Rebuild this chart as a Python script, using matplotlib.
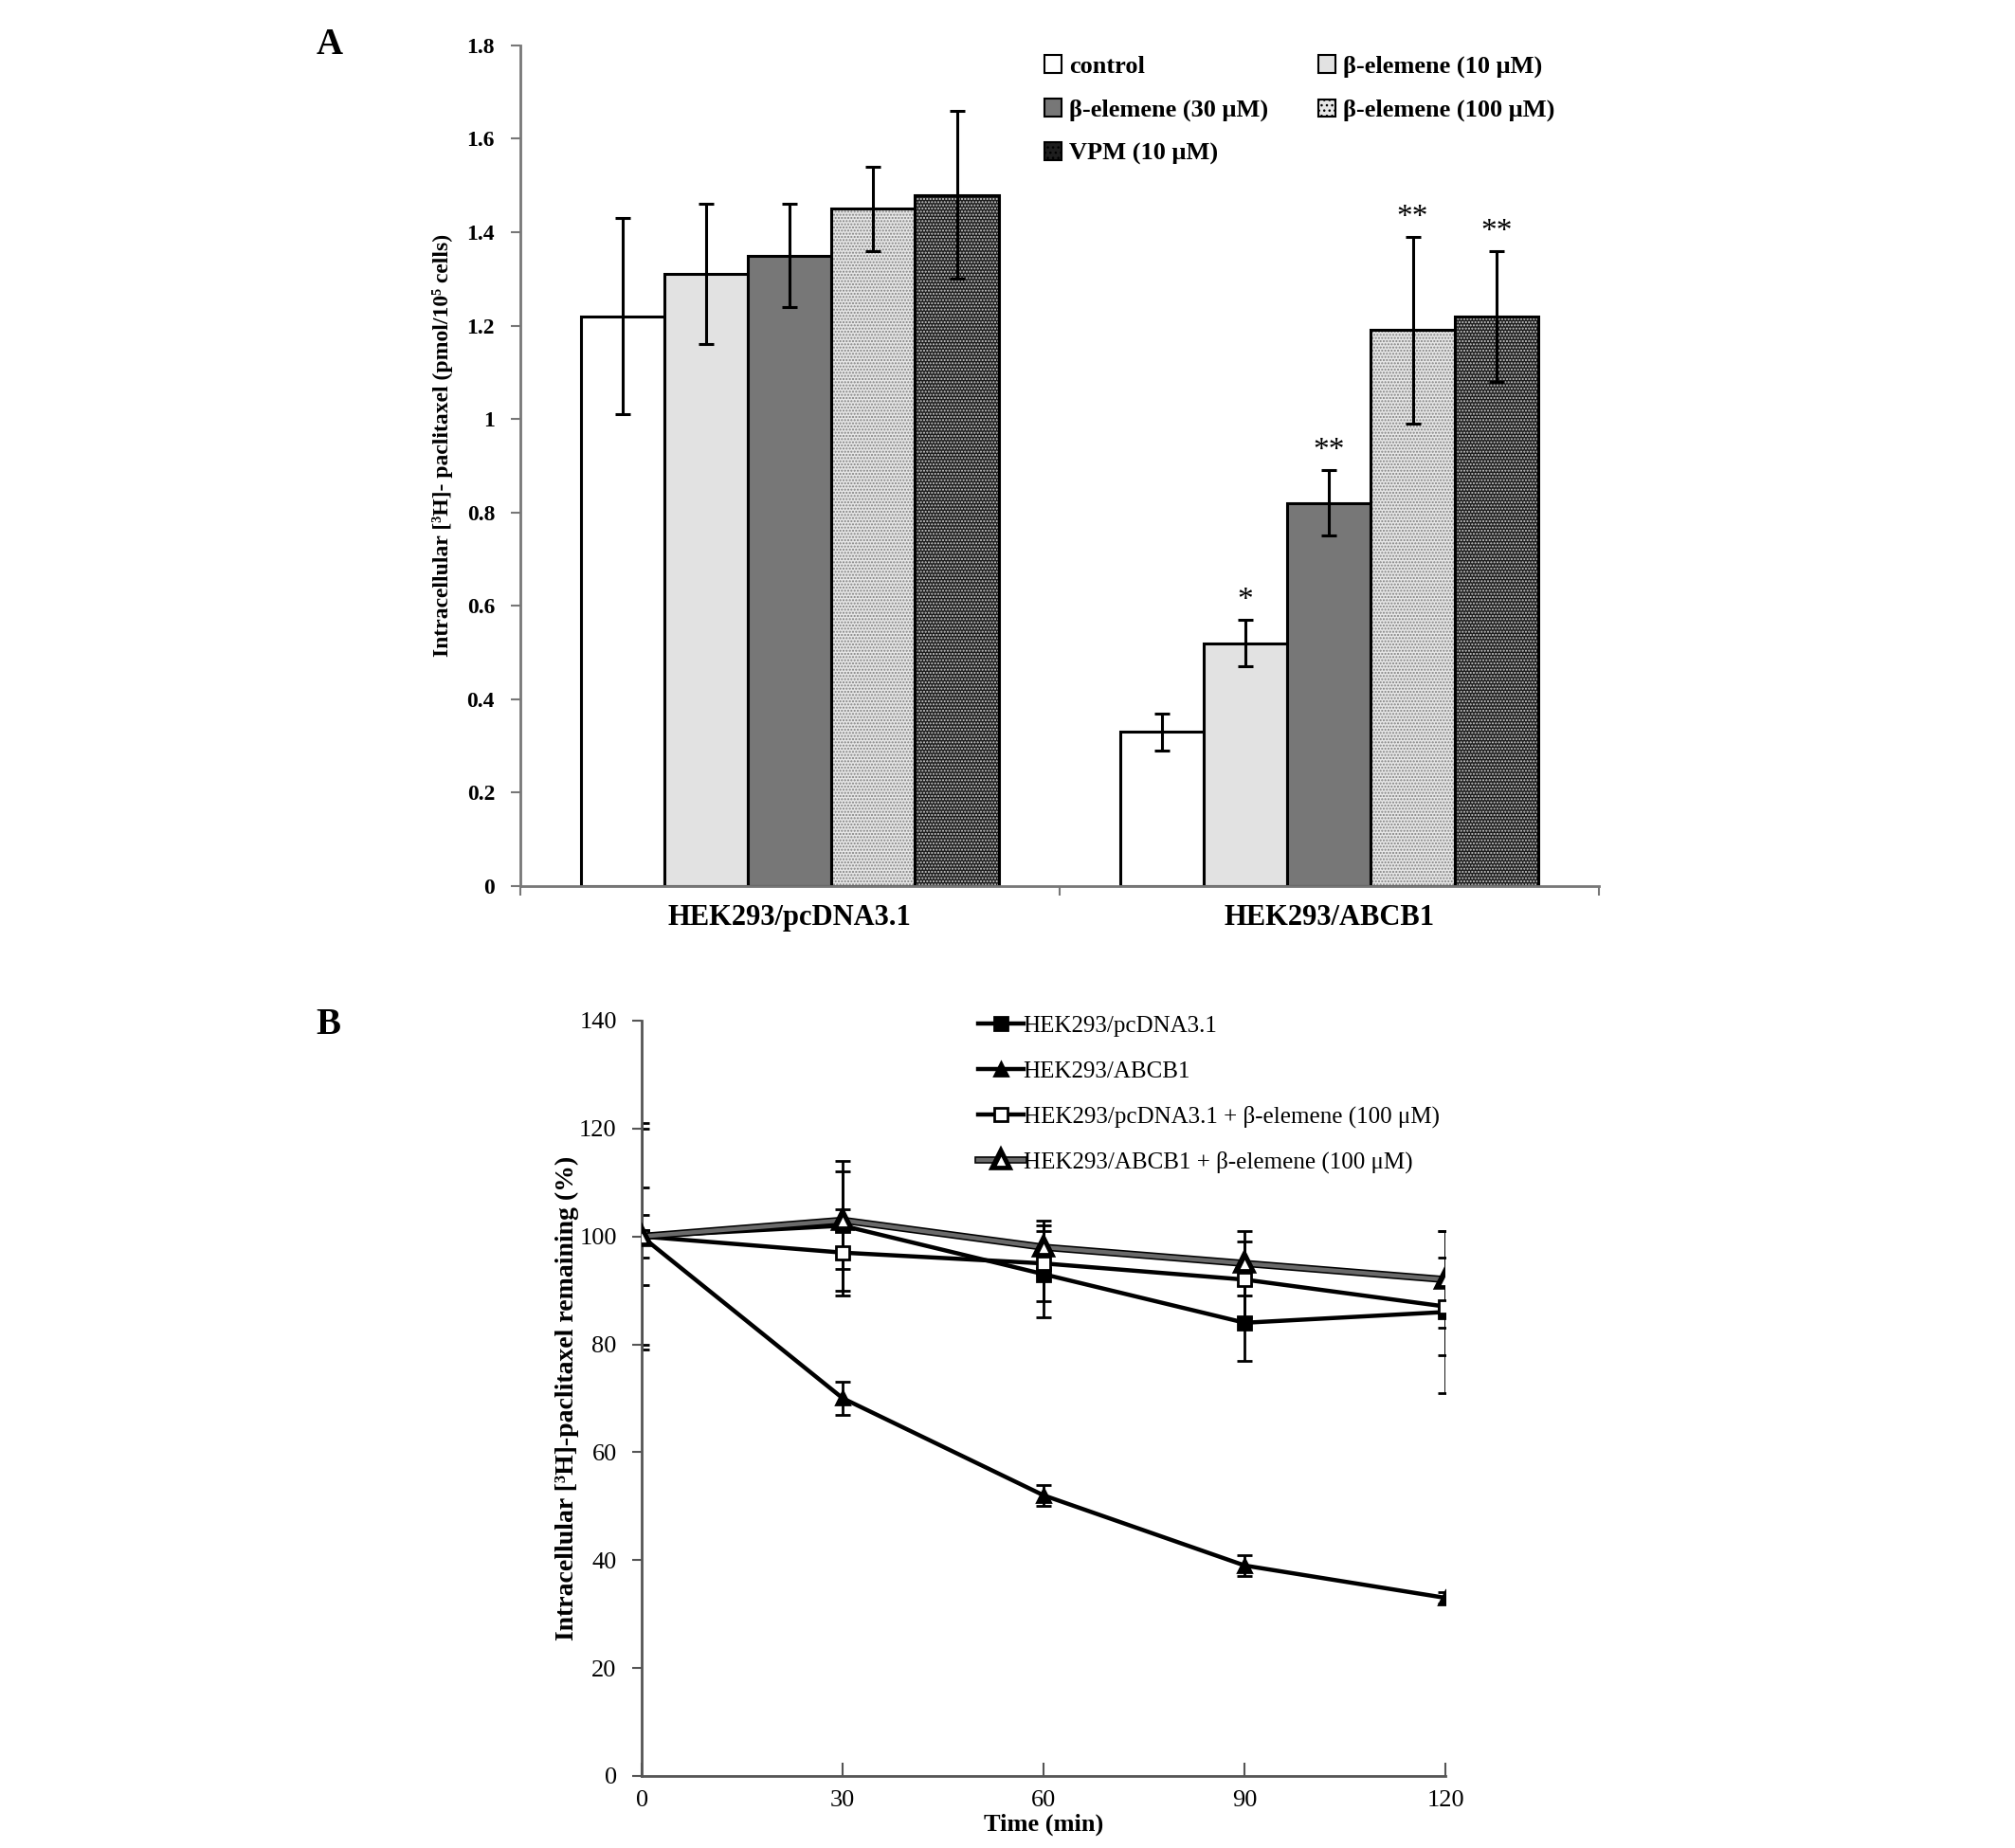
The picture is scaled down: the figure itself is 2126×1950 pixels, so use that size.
import numpy as np
import matplotlib
matplotlib.use("Agg")
import matplotlib.pyplot as plt
from matplotlib.patches import Patch
import matplotlib.patheffects as pe

plt.rcParams['font.family'] = ['Liberation Serif', 'DejaVu Serif']

# ---------------- data, panel A ----------------
cells = ['HEK293/pcDNA3.1', 'HEK293/ABCB1']
treatments = ['control', 'β-elemene (10 μM)', 'β-elemene (30 μM)',
              'β-elemene (100 μM)', 'VPM (10 μM)']
means_a = [[1.22, 0.33],
           [1.31, 0.52],
           [1.35, 0.82],
           [1.45, 1.19],
           [1.48, 1.22]]
errs_a = [[0.21, 0.04],
          [0.15, 0.05],
          [0.11, 0.07],
          [0.09, 0.20],
          [0.18, 0.14]]
stars_a = [['', ''], ['', '*'], ['', '**'], ['', '**'], ['', '**']]

# ---------------- data, panel B ----------------
times = [0, 30, 60, 90, 120]
series_b = ['HEK293/pcDNA3.1', 'HEK293/ABCB1',
            'HEK293/pcDNA3.1 + β-elemene (100 μM)',
            'HEK293/ABCB1 + β-elemene (100 μM)']
vals_b = [[100, 102, 93, 84, 86],
          [100, 70, 52, 39, 33],
          [100, 97, 95, 92, 87],
          [100, 103, 98, 95, 92]]
errs_b = [[21, 12, 8, 7, 15],
          [4, 3, 2, 2, 1],
          [20, 8, 7, 7, 9],
          [9, 9, 5, 6, 9]]

fig = plt.figure(figsize=(21.26, 19.5), dpi=100)

# ================= panel A =================
ax = fig.add_axes([0.258, 0.5205, 0.5355, 0.455])
faces = ['white', '#e2e2e2', '#777777', '#e6e6e6', '#1e1e1e']
hatches = [None, None, None, '.....', '.....']
hcols = [None, None, None, '#808080', '#d0d0d0']
w = 0.155
x = np.arange(len(cells))
for i in range(len(treatments)):
    pos = x + (i - 2) * w
    if hatches[i]:
        ax.bar(pos, means_a[i], w, color=faces[i], edgecolor=hcols[i],
               hatch=hatches[i], linewidth=0)
        ax.bar(pos, means_a[i], w, fill=False, edgecolor='black', linewidth=2.2)
    else:
        ax.bar(pos, means_a[i], w, color=faces[i], edgecolor='black', linewidth=2.2)
    ax.errorbar(pos, means_a[i], yerr=errs_a[i], fmt='none', ecolor='black',
                elinewidth=2.2, capsize=6, capthick=2.2)
    for j in range(len(cells)):
        if stars_a[i][j]:
            ax.text(pos[j], means_a[i][j] + errs_a[i][j] + 0.01, stars_a[i][j],
                    ha='center', va='bottom', fontsize=24)

ax.set_xlim(-0.5, 1.5)
ax.set_ylim(0, 1.8)
ax.set_yticks(np.arange(0, 1.81, 0.2))
ax.set_yticklabels(['0', '0.2', '0.4', '0.6', '0.8', '1', '1.2', '1.4', '1.6', '1.8'],
                   fontsize=17, fontweight='bold')
ax.set_xticks([-0.5, 0.5, 1.5])
ax.set_xticklabels([])
ax.set_xticks(x, minor=True)
ax.set_xticklabels(cells, minor=True, fontsize=22, fontweight='bold')
ax.tick_params(axis='x', which='minor', length=0, pad=14)
ax.tick_params(axis='both', which='major', direction='out', length=7,
               width=1.5, color='#777777')
ax.tick_params(axis='y', pad=12)
for s in ['top', 'right']:
    ax.spines[s].set_visible(False)
for s in ['left', 'bottom']:
    ax.spines[s].set_color('#777777')
    ax.spines[s].set_linewidth(2)
ax.set_ylabel('Intracellular [³H]- paclitaxel (pmol/10⁵ cells)',
              fontsize=17, fontweight='bold')
ax.yaxis.set_label_coords(-0.0615, 0.524)

handles = []
for i in range(len(treatments)):
    if hatches[i]:
        handles.append(Patch(facecolor=faces[i], edgecolor='black',
                             hatch='...', linewidth=1.5))
    else:
        handles.append(Patch(facecolor=faces[i], edgecolor='black', linewidth=1.5))
order = [0, 2, 4, 1, 3]
ax.legend([handles[k] for k in order], [treatments[k] for k in order],
          ncol=2, loc='upper left', bbox_to_anchor=(0.465, 1.015), frameon=False,
          prop={'size': 19, 'weight': 'bold'}, handlelength=0.7, handleheight=0.7,
          handletextpad=0.3, columnspacing=2.0, labelspacing=0.85)

fig.text(0.157, 0.985, 'A', fontsize=28, fontweight='bold', va='top')

# ================= panel B =================
bx = fig.add_axes([0.3185, 0.039, 0.399, 0.4087])
styles = [dict(marker='s', mfc='black', color='black'),
          dict(marker='^', mfc='black', color='black'),
          dict(marker='s', mfc='white', color='black'),
          dict(marker='^', mfc='white', color='#6a6a6a',
               path_effects=[pe.Stroke(linewidth=5.5, foreground='black'), pe.Normal()])]
lines = []
for k in range(len(series_b)):
    st = dict(styles[k])
    peff = st.pop('path_effects', None)
    bx.errorbar(times, vals_b[k], yerr=errs_b[k], fmt='none', ecolor='black',
                elinewidth=2, capsize=6, capthick=2, zorder=2)
    ln, = bx.plot(times, vals_b[k], linewidth=3.2, markersize=10,
                  mec='black', mew=2, label=series_b[k], zorder=3, **st)
    if peff:
        ln.set_path_effects(peff)
    lines.append(ln)

bx.set_xlim(0, 120)
bx.set_ylim(0, 140)
bx.set_xticks(times)
bx.set_yticks(np.arange(0, 141, 20))
bx.tick_params(axis='x', direction='in', length=10, width=1.5, color='#555555',
               labelsize=19, pad=11)
bx.tick_params(axis='y', direction='out', length=7, width=1.5, color='#555555',
               labelsize=19, pad=12)
for s in ['top', 'right']:
    bx.spines[s].set_visible(False)
for s in ['left', 'bottom']:
    bx.spines[s].set_color('#555555')
    bx.spines[s].set_linewidth(2)
bx.set_xlabel('Time (min)', fontsize=19, fontweight='bold', labelpad=2)
bx.set_ylabel('Intracellular [³H]-paclitaxel remaining (%)', fontsize=20,
              fontweight='bold', labelpad=0)
bx.legend(handles=lines, loc='upper left', bbox_to_anchor=(0.392, 1.035),
          frameon=False, fontsize=18, handlelength=1.9, handletextpad=0.0,
          labelspacing=1.0)

fig.text(0.157, 0.455, 'B', fontsize=28, fontweight='bold', va='top')

fig.savefig('out.png', dpi=100)
